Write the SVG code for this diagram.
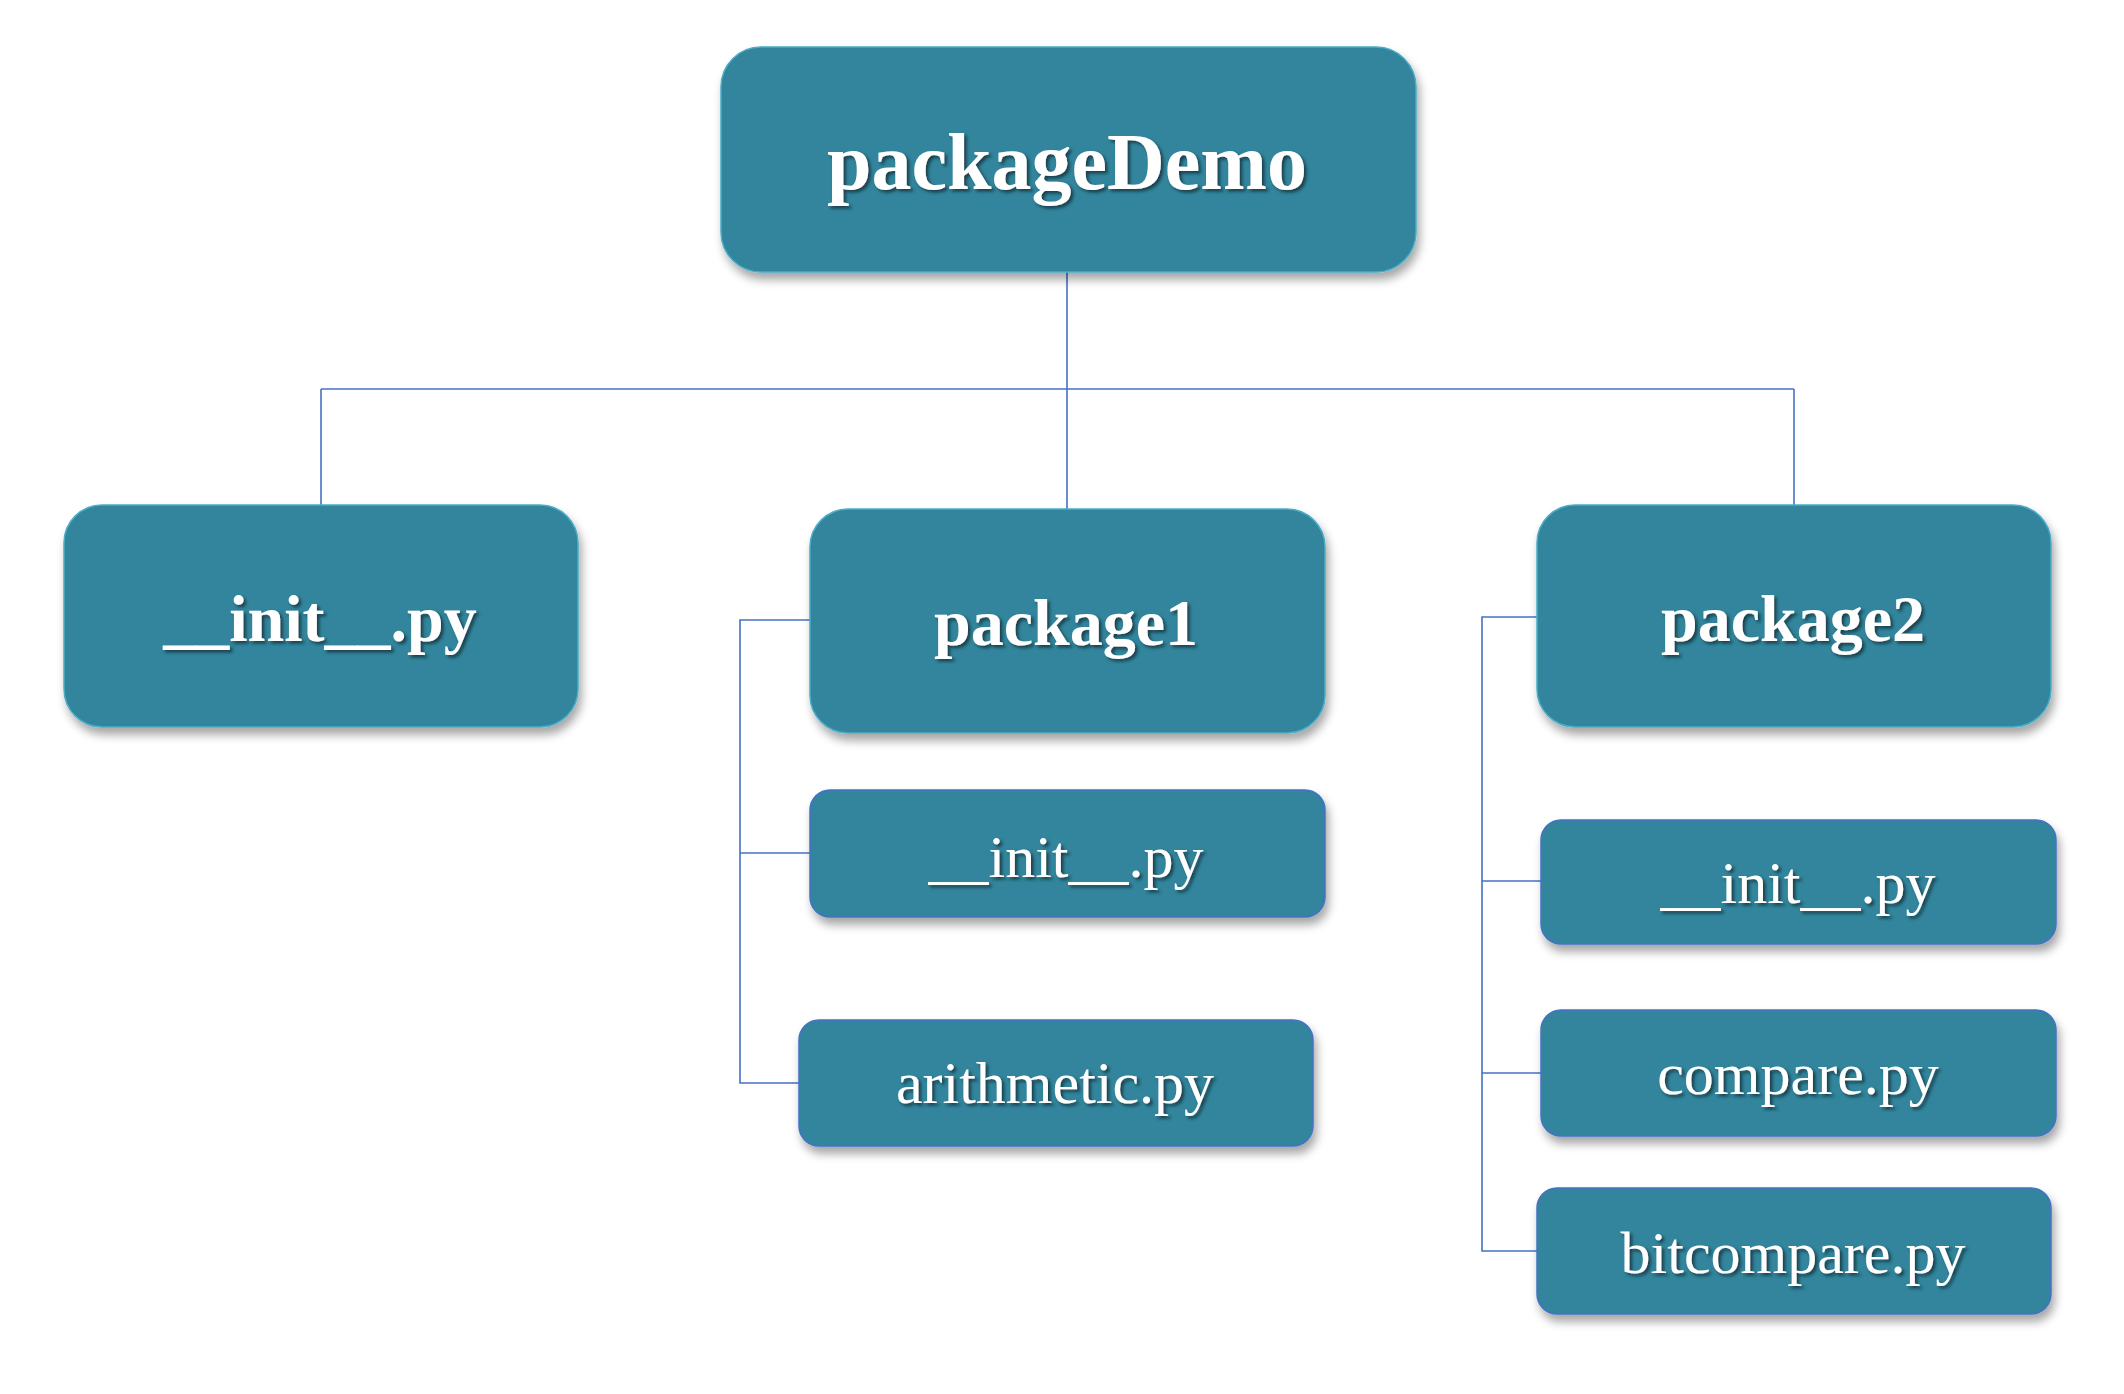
<svg xmlns="http://www.w3.org/2000/svg" width="2124" height="1394" viewBox="0 0 2124 1394">
<defs>
<filter id="boxShadow" x="-10%" y="-10%" width="125%" height="135%">
<feDropShadow dx="3" dy="7" stdDeviation="5" flood-color="#000" flood-opacity="0.35"/>
</filter>
<filter id="textShadow" x="-5%" y="-10%" width="115%" height="130%">
<feDropShadow dx="2.5" dy="2.5" stdDeviation="1.5" flood-color="#0d2a33" flood-opacity="0.75"/>
</filter>
</defs>
<style>
.box{fill:#31859C;stroke:#4BACC6;stroke-width:1.5;filter:url(#boxShadow)}
.sbox{fill:#31859C;stroke:#4472C4;stroke-width:1.5;filter:url(#boxShadow)}
.lbl{font-family:"Liberation Serif","Times New Roman",serif;fill:#fff;text-anchor:middle;filter:url(#textShadow)}
.big{font-size:66px;font-weight:bold}
.root{font-size:80px;font-weight:bold}
.small{font-size:60px}
.conn{fill:none;stroke:#4472C4;stroke-width:1.6}
</style>
<rect width="2124" height="1394" fill="#fff"/>
<g id="connectors">
<path class="conn" d="M1067 272 V389"/>
<path class="conn" d="M321 389 H1794"/>
<path class="conn" d="M321 389 V505"/>
<path class="conn" d="M1067 389 V509"/>
<path class="conn" d="M1794 389 V505"/>
<path class="conn" d="M810 620 H740 V1083 H799"/>
<path class="conn" d="M740 853 H810"/>
<path class="conn" d="M1537 617 H1482 V1251 H1537"/>
<path class="conn" d="M1482 881 H1541"/>
<path class="conn" d="M1482 1073 H1541"/>
</g>
<g id="packageDemo">
<rect class="box" x="721" y="47" width="695" height="225" rx="40"/>
<text class="lbl root" x="1067" y="189">packageDemo</text>
</g>
<g id="init_root">
<rect class="box" x="64" y="505" width="514" height="222" rx="38"/>
<text class="lbl big" x="320" y="641">__init__.py</text>
</g>
<g id="package1">
<rect class="box" x="810" y="509" width="515" height="224" rx="38"/>
<text class="lbl big" x="1066" y="645">package1</text>
</g>
<g id="package2">
<rect class="box" x="1537" y="505" width="514" height="222" rx="38"/>
<text class="lbl big" x="1793" y="641">package2</text>
</g>
<g id="p1_init">
<rect class="sbox" x="810" y="790" width="515" height="127" rx="20"/>
<text class="lbl small" x="1066" y="877">__init__.py</text>
</g>
<g id="arithmetic">
<rect class="sbox" x="799" y="1020" width="514" height="126" rx="20"/>
<text class="lbl small" x="1055" y="1103">arithmetic.py</text>
</g>
<g id="p2_init">
<rect class="sbox" x="1541" y="820" width="515" height="124" rx="20"/>
<text class="lbl small" x="1798" y="903">__init__.py</text>
</g>
<g id="compare">
<rect class="sbox" x="1541" y="1010" width="515" height="126" rx="20"/>
<text class="lbl small" x="1798" y="1094">compare.py</text>
</g>
<g id="bitcompare">
<rect class="sbox" x="1537" y="1188" width="514" height="126" rx="20"/>
<text class="lbl small" x="1793" y="1273">bitcompare.py</text>
</g>
</svg>
